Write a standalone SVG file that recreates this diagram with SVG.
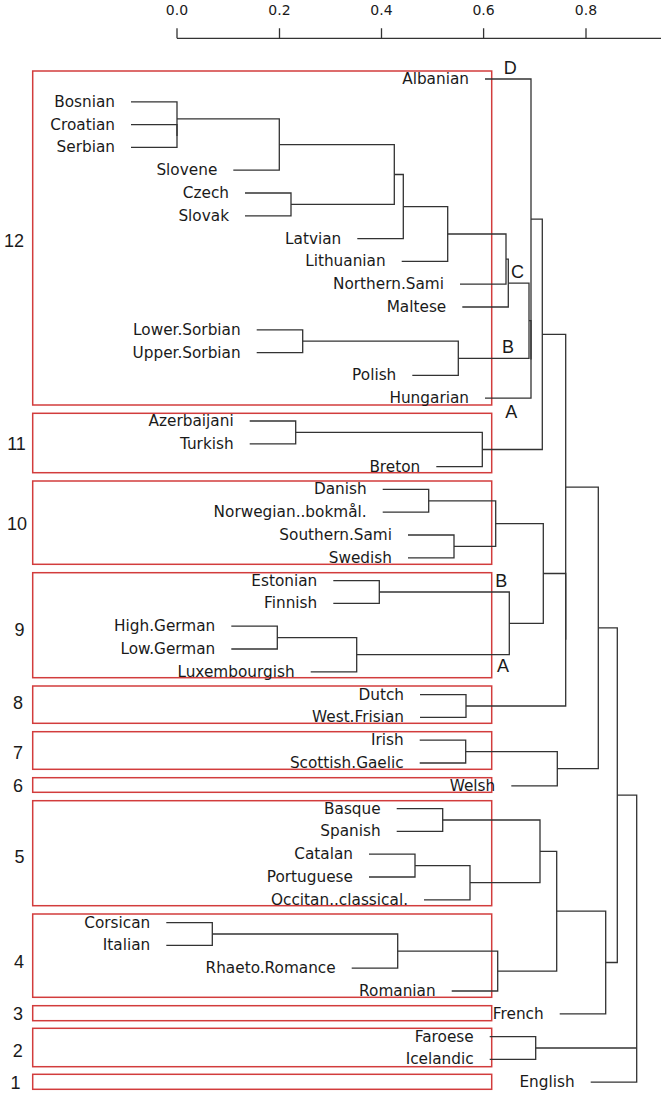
<svg xmlns="http://www.w3.org/2000/svg" width="661" height="1095" viewBox="0 0 661 1095">
<style>
.ln{fill:none;stroke:#333;stroke-width:1.3}
.box{fill:none;stroke:#d23c3c;stroke-width:1.5}
.lf{font-family:"DejaVu Sans",sans-serif;font-size:15.3px;fill:#1a1a1a;text-anchor:end}
.ax{font-family:"DejaVu Sans",sans-serif;font-size:14px;fill:#1a1a1a;text-anchor:middle}
.num{font-family:"Liberation Sans",Arial,sans-serif;font-size:18px;fill:#1a1a1a;text-anchor:middle}
.tag{font-family:"Liberation Sans",Arial,sans-serif;font-size:18px;fill:#1a1a1a;text-anchor:middle}
</style>
<rect width="661" height="1095" fill="#fff"/>
<g id="axis">
<path class="ln" d="M177 38.3H661M177 28.3V38.3M279.5 28.3V38.3M381.5 28.3V38.3M483.6 28.3V38.3M586 28.3V38.3"/>
<text class="ax" x="177" y="15">0.0</text>
<text class="ax" x="279.5" y="15">0.2</text>
<text class="ax" x="381.5" y="15">0.4</text>
<text class="ax" x="483.6" y="15">0.6</text>
<text class="ax" x="586" y="15">0.8</text>
</g>
<g id="boxes">
<g id="box12"><rect class="box" x="32.7" y="71" width="459" height="334"/><text class="num" x="14" y="247">12</text></g>
<g id="box11"><rect class="box" x="32.7" y="413.3" width="459" height="59.4"/><text class="num" x="16.5" y="450">11</text></g>
<g id="box10"><rect class="box" x="32.7" y="481" width="459" height="83.3"/><text class="num" x="17" y="530">10</text></g>
<g id="box9"><rect class="box" x="32.7" y="572.7" width="459" height="105"/><text class="num" x="19.5" y="636">9</text></g>
<g id="box8"><rect class="box" x="32.7" y="686" width="459" height="37.3"/><text class="num" x="18" y="709.3">8</text></g>
<g id="box7"><rect class="box" x="32.7" y="731.7" width="459" height="37.6"/><text class="num" x="18" y="759.3">7</text></g>
<g id="box6"><rect class="box" x="32.7" y="777.7" width="459" height="14.6"/><text class="num" x="18" y="792">6</text></g>
<g id="box5"><rect class="box" x="32.7" y="800.7" width="459" height="105"/><text class="num" x="19.5" y="862.7">5</text></g>
<g id="box4"><rect class="box" x="32.7" y="914" width="459" height="83.3"/><text class="num" x="19" y="967.7">4</text></g>
<g id="box3"><rect class="box" x="32.7" y="1005.7" width="459" height="15"/><text class="num" x="18" y="1020">3</text></g>
<g id="box2"><rect class="box" x="32.7" y="1028.3" width="459" height="38.4"/><text class="num" x="17.7" y="1056.7">2</text></g>
<g id="box1"><rect class="box" x="32.7" y="1074.3" width="459" height="15"/><text class="num" x="15.5" y="1089.3">1</text></g>
</g>
<g id="connectors">
<path class="ln" d="M131 124.6H177V147.4H131"/>
<path class="ln" d="M131 101.8H177V136"/>
<path class="ln" d="M177 118.9H279.3V170.2H233.3"/>
<path class="ln" d="M245 193H291V215.8H245"/>
<path class="ln" d="M279.3 144.55H394.3V204.4H291"/>
<path class="ln" d="M394.3 174.5H403.3V238.6H357.3"/>
<path class="ln" d="M403.3 206.55H447.7V261.4H401.7"/>
<path class="ln" d="M447.7 234H506V284.2H460"/>
<path class="ln" d="M506 259.1H508.3V307H462.3"/>
<path class="ln" d="M256.7 329.8H302.7V352.6H256.7"/>
<path class="ln" d="M302.7 341.2H458.3V375.4H412.3"/>
<path class="ln" d="M508.3 283.05H529V358.3H458.3"/>
<path class="ln" d="M529 320.7H531V398.2H485"/>
<path class="ln" d="M485 79H531V359.45"/>
<path class="ln" d="M249.7 421H295.7V443.8H249.7"/>
<path class="ln" d="M295.7 432.4H482.3V466.6H436.3"/>
<path class="ln" d="M531 219.2H542.3V449.5H482.3"/>
<path class="ln" d="M382.7 489.4H428.7V512.2H382.7"/>
<path class="ln" d="M408 535H454V557.8H408"/>
<path class="ln" d="M428.7 500.8H495.7V546.4H454"/>
<path class="ln" d="M333.3 580.6H379.3V603.4H333.3"/>
<path class="ln" d="M231.3 626.2H277.3V649H231.3"/>
<path class="ln" d="M277.3 637.6H356.7V671.8H310.7"/>
<path class="ln" d="M379.3 592H509.3V654.7H356.7"/>
<path class="ln" d="M495.7 523.6H543.3V623.35H509.3"/>
<path class="ln" d="M420 694.6H466V717.4H420"/>
<path class="ln" d="M543.3 573.5H565.7V706H466"/>
<path class="ln" d="M542.3 334.35H565.7V639.75"/>
<path class="ln" d="M419.7 740.2H465.7V763H419.7"/>
<path class="ln" d="M465.7 751.6H557.3V785.8H511.3"/>
<path class="ln" d="M565.7 487.05H598.3V768.7H557.3"/>
<path class="ln" d="M396.7 808.6H442.7V831.4H396.7"/>
<path class="ln" d="M369 854.2H415V877H369"/>
<path class="ln" d="M415 865.6H470V899.8H424"/>
<path class="ln" d="M442.7 820H540V882.7H470"/>
<path class="ln" d="M166.3 922.6H212.3V945.4H166.3"/>
<path class="ln" d="M212.3 934H397.7V968.2H351.7"/>
<path class="ln" d="M397.7 951.1H497.7V991H451.7"/>
<path class="ln" d="M540 851.35H556.7V971.05H497.7"/>
<path class="ln" d="M556.7 911.2H605.7V1013.8H559.7"/>
<path class="ln" d="M598.3 627.9H617.3V962.5H605.7"/>
<path class="ln" d="M489.7 1036.6H535.7V1059.4H489.7"/>
<path class="ln" d="M617.3 795.2H636.7V1082.2H590.7"/>
<path class="ln" d="M535.7 1048H636.7"/>
</g>
<g id="leaves">
<g id="Albanian"><text class="lf" x="469" y="84">Albanian</text></g>
<g id="Bosnian"><text class="lf" x="115" y="106.8">Bosnian</text></g>
<g id="Croatian"><text class="lf" x="115" y="129.6">Croatian</text></g>
<g id="Serbian"><text class="lf" x="115" y="152.4">Serbian</text></g>
<g id="Slovene"><text class="lf" x="217.3" y="175.2">Slovene</text></g>
<g id="Czech"><text class="lf" x="229" y="198">Czech</text></g>
<g id="Slovak"><text class="lf" x="229" y="220.8">Slovak</text></g>
<g id="Latvian"><text class="lf" x="341.3" y="243.6">Latvian</text></g>
<g id="Lithuanian"><text class="lf" x="385.7" y="266.4">Lithuanian</text></g>
<g id="Northern.Sami"><text class="lf" x="444" y="289.2">Northern.Sami</text></g>
<g id="Maltese"><text class="lf" x="446.3" y="312">Maltese</text></g>
<g id="Lower.Sorbian"><text class="lf" x="240.7" y="334.8">Lower.Sorbian</text></g>
<g id="Upper.Sorbian"><text class="lf" x="240.7" y="357.6">Upper.Sorbian</text></g>
<g id="Polish"><text class="lf" x="396.3" y="380.4">Polish</text></g>
<g id="Hungarian"><text class="lf" x="469" y="403.2">Hungarian</text></g>
<g id="Azerbaijani"><text class="lf" x="233.7" y="426">Azerbaijani</text></g>
<g id="Turkish"><text class="lf" x="233.7" y="448.8">Turkish</text></g>
<g id="Breton"><text class="lf" x="420.3" y="471.6">Breton</text></g>
<g id="Danish"><text class="lf" x="366.7" y="494.4">Danish</text></g>
<g id="Norwegian..bokmal."><text class="lf" x="366.7" y="517.2">Norwegian..bokmål.</text></g>
<g id="Southern.Sami"><text class="lf" x="392" y="540">Southern.Sami</text></g>
<g id="Swedish"><text class="lf" x="392" y="562.8">Swedish</text></g>
<g id="Estonian"><text class="lf" x="317.3" y="585.6">Estonian</text></g>
<g id="Finnish"><text class="lf" x="317.3" y="608.4">Finnish</text></g>
<g id="High.German"><text class="lf" x="215.3" y="631.2">High.German</text></g>
<g id="Low.German"><text class="lf" x="215.3" y="654">Low.German</text></g>
<g id="Luxembourgish"><text class="lf" x="294.7" y="676.8">Luxembourgish</text></g>
<g id="Dutch"><text class="lf" x="404" y="699.6">Dutch</text></g>
<g id="West.Frisian"><text class="lf" x="404" y="722.4">West.Frisian</text></g>
<g id="Irish"><text class="lf" x="403.7" y="745.2">Irish</text></g>
<g id="Scottish.Gaelic"><text class="lf" x="403.7" y="768">Scottish.Gaelic</text></g>
<g id="Welsh"><text class="lf" x="495.3" y="790.8">Welsh</text></g>
<g id="Basque"><text class="lf" x="380.7" y="813.6">Basque</text></g>
<g id="Spanish"><text class="lf" x="380.7" y="836.4">Spanish</text></g>
<g id="Catalan"><text class="lf" x="353" y="859.2">Catalan</text></g>
<g id="Portuguese"><text class="lf" x="353" y="882">Portuguese</text></g>
<g id="Occitan..classical."><text class="lf" x="408" y="904.8">Occitan..classical.</text></g>
<g id="Corsican"><text class="lf" x="150.3" y="927.6">Corsican</text></g>
<g id="Italian"><text class="lf" x="150.3" y="950.4">Italian</text></g>
<g id="Rhaeto.Romance"><text class="lf" x="335.7" y="973.2">Rhaeto.Romance</text></g>
<g id="Romanian"><text class="lf" x="435.7" y="996">Romanian</text></g>
<g id="French"><text class="lf" x="543.7" y="1018.8">French</text></g>
<g id="Faroese"><text class="lf" x="473.7" y="1041.6">Faroese</text></g>
<g id="Icelandic"><text class="lf" x="473.7" y="1064.4">Icelandic</text></g>
<g id="English"><text class="lf" x="574.7" y="1087.2">English</text></g>
</g>
<g id="tags">
<text class="tag" x="510.3" y="74">D</text>
<text class="tag" x="517.5" y="277.7">C</text>
<text class="tag" x="508" y="353.3">B</text>
<text class="tag" x="511.2" y="417.7">A</text>
<text class="tag" x="501.2" y="586.7">B</text>
<text class="tag" x="503" y="672.3">A</text>
</g>
</svg>
